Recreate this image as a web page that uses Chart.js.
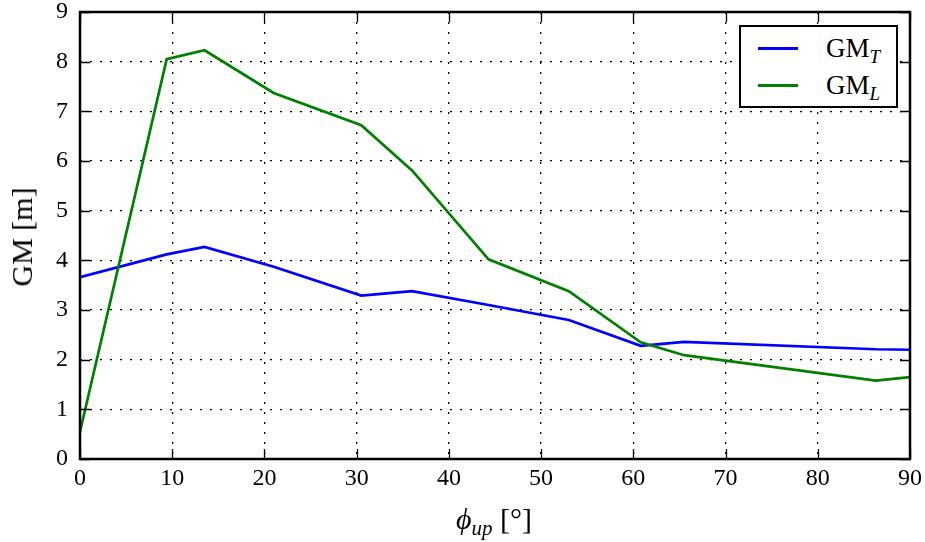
<!DOCTYPE html>
<html>
<head>
<meta charset="utf-8">
<script src="https://cdn.jsdelivr.net/npm/chart.js@4"></script>
<style>
  html, body { margin: 0; padding: 0; background: #fff; }
  #wrap { position: relative; width: 925px; height: 542px; font-family: "Liberation Serif", "DejaVu Serif", serif; color: #000; }
  canvas { position: absolute; left: 0; top: 0; }
  .ytitle { position: absolute; left: 22px; top: 237px; transform: translate(-50%, -50%) rotate(-90deg); font-size: 30px; white-space: nowrap; }
  .xtitle { position: absolute; left: 494px; top: 519px; transform: translate(-50%, -50%); font-size: 30px; white-space: nowrap; }
  .legend { position: absolute; left: 739px; top: 25px; width: 155px; height: 79px; border: 2px solid #000; background: #fff; }
  .legend .row { position: absolute; left: 0; height: 30px; width: 100%; font-size: 27px; line-height: 30px; }
  .legend .swatch { position: absolute; left: 17px; top: 14px; width: 40px; height: 2.6px; }
  .legend .lbl { position: absolute; left: 85px; top: 0; }
  sub { font-size: 70%; vertical-align: -0.3em; line-height: 0; }
</style>
</head>
<body>
<div id="wrap">
  <canvas id="c" width="925" height="542"></canvas>
  <div class="ytitle">GM [m]</div>
  <div class="xtitle"><i>ϕ</i><sub><i>up</i></sub> [°]</div>
  <div class="legend" id="legend"></div>
</div>
<script>
// GM vs upper angle — two curves.
const PHI   = [0, 9.4, 13.5, 21.0, 30.5, 36.0, 44.3, 53.0, 60.8, 65.5, 86.3, 90];
const GM_T  = [3.66, 4.12, 4.27, 3.87, 3.29, 3.38, 3.10, 2.80, 2.28, 2.36, 2.21, 2.20];
const GM_L  = [0.55, 8.05, 8.23, 7.37, 6.72, 5.81, 4.02, 3.38, 2.35, 2.09, 1.58, 1.65];
const X_TICKS = [0, 10, 20, 30, 40, 50, 60, 70, 80, 90];
const Y_TICKS = [0, 1, 2, 3, 4, 5, 6, 7, 8, 9];

const SERIES = [
  { label: 'GM', sub: 'T', values: GM_T, color: '#0000ff', order: 1 },
  { label: 'GM', sub: 'L', values: GM_L, color: '#008000', order: 0 },
];

function el(id) { return document.getElementById(id); }

// matplotlib-style frame: solid box plus inward ticks on all four sides
const framePlugin = {
  id: 'frame',
  afterDraw(chart) {
    const { ctx, chartArea: a, scales: { x, y } } = chart;
    const len = 10;
    ctx.save();
    ctx.strokeStyle = '#000';
    ctx.lineWidth = 1.3;
    ctx.beginPath();
    for (const v of X_TICKS) {
      const px = Math.round(x.getPixelForValue(v)) + 0.5;
      ctx.moveTo(px, a.bottom); ctx.lineTo(px, a.bottom - len);
      ctx.moveTo(px, a.top); ctx.lineTo(px, a.top + len);
    }
    for (const v of Y_TICKS) {
      const py = Math.round(y.getPixelForValue(v)) + 0.5;
      ctx.moveTo(a.left, py); ctx.lineTo(a.left + len, py);
      ctx.moveTo(a.right, py); ctx.lineTo(a.right - len, py);
    }
    ctx.stroke();
    ctx.lineWidth = 2.5;
    ctx.strokeRect(a.left, a.top, a.right - a.left, a.bottom - a.top);
    ctx.restore();
  }
};

const tickFont = { family: '"Liberation Serif", "DejaVu Serif", serif', size: 24, lineHeight: 1 };
const gridOpts = { color: '#000', lineWidth: 1.3, drawTicks: false, borderDash: [2, 8] };
const borderOpts = { display: false, dash: [2, 8] };

new Chart(el('c').getContext('2d'), {
  type: 'line',
  data: {
    datasets: SERIES.map(s => ({
      label: s.label + s.sub,
      data: PHI.map((p, i) => ({ x: p, y: s.values[i] })),
      borderColor: s.color,
      backgroundColor: s.color,
      borderWidth: 2.7,
      pointRadius: 0,
      tension: 0,
      fill: false,
      order: s.order,
    })),
  },
  options: {
    responsive: false,
    animation: false,
    devicePixelRatio: 1,
    layout: { padding: { left: 0, right: 15, top: 12, bottom: 0 } },
    plugins: { legend: { display: false }, tooltip: { enabled: false } },
    scales: {
      x: {
        type: 'linear', min: 0, max: 90,
        afterBuildTicks: s => { s.ticks = X_TICKS.map(v => ({ value: v })); },
        afterFit: s => { s.height = 83; s.paddingLeft = 0; s.paddingRight = 0; },
        grid: gridOpts, border: borderOpts,
        ticks: { color: '#000', font: tickFont, padding: 8, maxRotation: 0 },
      },
      y: {
        type: 'linear', min: 0, max: 9,
        afterBuildTicks: s => { s.ticks = Y_TICKS.map(v => ({ value: v })); },
        afterFit: s => { s.width = 80; s.paddingTop = 0; s.paddingBottom = 0; },
        grid: gridOpts, border: borderOpts,
        ticks: { color: '#000', font: tickFont, padding: 12 },
      },
    },
  },
  plugins: [framePlugin],
});

// legend with subscripts, built from the same series list
el('legend').innerHTML = SERIES.map((s, i) =>
  `<div class="row" style="top:${6 + i * 37}px"><span class="swatch" style="background:${s.color}"></span>` +
  `<span class="lbl">${s.label}<sub><i>${s.sub}</i></sub></span></div>`).join('');
</script>
</body>
</html>
